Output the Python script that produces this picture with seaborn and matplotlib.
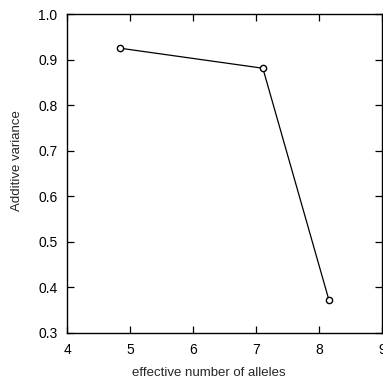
import matplotlib
matplotlib.use("Agg")
import matplotlib.pyplot as plt
import seaborn as sns
import pandas as pd

# effective number of alleles vs. additive variance
n_alleles = [4.84, 7.11, 8.16]
additive_variance = [0.925, 0.881, 0.372]
x_ticks = [4, 5, 6, 7, 8, 9]
y_ticks = [0.3, 0.4, 0.5, 0.6, 0.7, 0.8, 0.9, 1.0]

df = pd.DataFrame({"alleles": n_alleles, "variance": additive_variance})

sns.set_theme(style="ticks")
plt.rcParams["font.family"] = ["Liberation Sans", "DejaVu Sans"]

fig = plt.figure(figsize=(3.83, 3.89), dpi=100)
ax = fig.add_axes([0.175, 0.144, 0.822, 0.820])

sns.lineplot(data=df, x="alleles", y="variance", ax=ax, color="black",
             linewidth=0.9, marker="o", markersize=4.5,
             markerfacecolor="white", markeredgecolor="black",
             markeredgewidth=1.0)

ax.set_xlim(4, 9)
ax.set_ylim(0.3, 1.0)
ax.set_xticks(x_ticks)
ax.set_yticks(y_ticks)
ax.set_xticklabels([str(t) for t in x_ticks])
ax.set_yticklabels([f"{t:.1f}" for t in y_ticks])
ax.tick_params(direction="in", top=True, right=True, length=5, width=0.9,
               labelsize=10, colors="black", pad=7)
for s in ax.spines.values():
    s.set_visible(True)
    s.set_linewidth(1.0)
    s.set_color("black")

ax.set_xlabel("effective number of alleles", fontsize=9.5)
ax.set_ylabel("Additive variance", fontsize=9.5)
ax.xaxis.set_label_coords(0.45, -0.108)
ax.yaxis.set_label_coords(-0.14, 0.54)

fig.savefig("out.png", dpi=100)
